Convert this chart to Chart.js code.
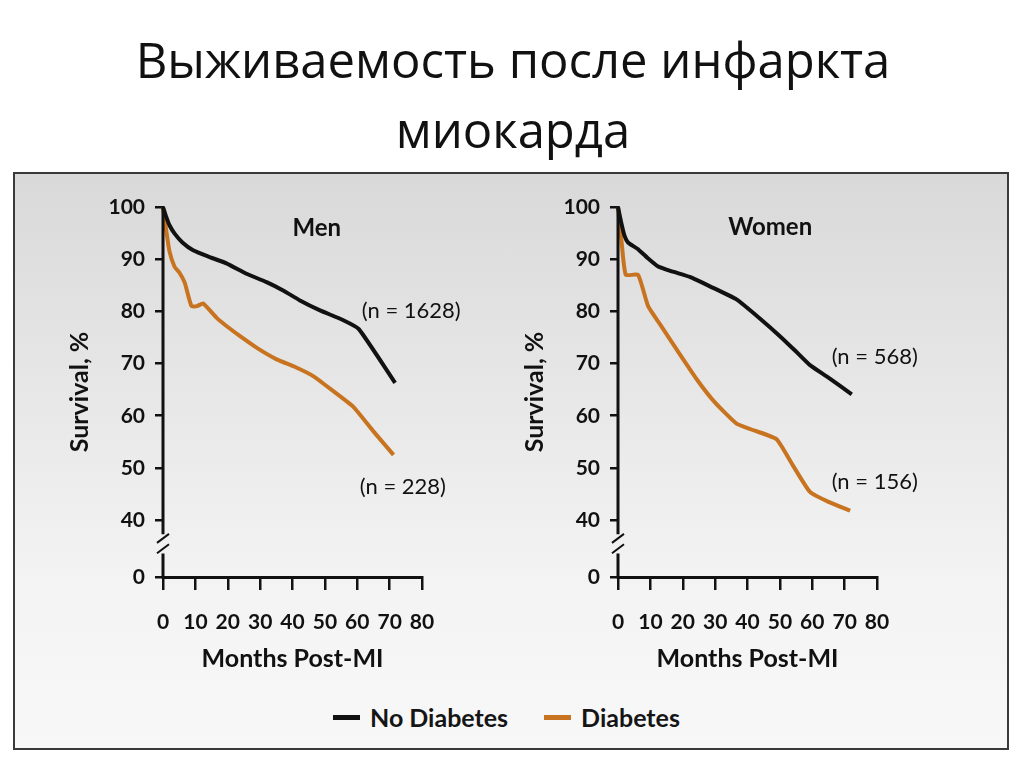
<!DOCTYPE html>
<html>
<head>
<meta charset="utf-8">
<script src="https://cdn.jsdelivr.net/npm/chart.js@4"></script>
<style>
  body { margin: 0; background: #fff; width: 1024px; height: 767px; overflow: hidden; position: relative; }
  #title { position: absolute; left: 0; top: 24px; width: 1026px; text-align: center;
           font-family: "Open Sans", sans-serif; font-size: 49px; line-height: 70px; color: #111; }
  #panel { position: absolute; left: 13px; top: 172px; width: 992px; height: 574px;
           border: 2px solid #3a3a3a; background: linear-gradient(#d9d9d9, #f3f3f3 70%, #f8f8f8); }
  .chartbox { position: absolute; top: 180px; width: 480px; height: 510px; }
  #legend { position: absolute; left: 333px; top: 702px; display: flex; align-items: center;
            font-family: Lato, sans-serif; font-weight: bold; font-size: 25px; color: #151515; }
  .item { display: flex; align-items: center; margin-right: 36px; }
  .swatch { width: 27px; height: 5px; margin-right: 10px; }
</style>
</head>
<body>
<div id="title">Выживаемость после инфаркта<br>миокарда</div>
<div id="panel"></div>
<div class="chartbox" style="left:20px"><canvas id="menChart"></canvas></div>
<div class="chartbox" style="left:475px"><canvas id="womenChart"></canvas></div>
<div id="legend"></div>
<script>
// series labels and colours
const seriesNames = ['No Diabetes', 'Diabetes'];
const seriesColors = ['#111111', '#c8731f'];

// Men, months post-MI and survival %
const menNoDiabMonths = [0, 1, 2, 3.6, 6, 9.3, 14, 19.6, 25.8, 32, 37.1, 42.3, 48.5, 55.7, 60.5, 71.7];
const menNoDiabValues = [100, 98.1, 96.5, 94.9, 93.2, 91.7, 90.5, 89.2, 87.2, 85.6, 84.0, 82.1, 80.2, 78.3, 76.6, 66.3];
const menDiabMonths = [0, 1, 2, 3.6, 5, 6.7, 8.8, 10.5, 12.4, 16.5, 20, 23.7, 29, 35.1, 41, 46.4, 52, 58.8, 65, 71.2];
const menDiabValues = [100, 95.5, 91.5, 88.5, 87.5, 85.5, 81, 81, 81.5, 78.8, 77, 75.3, 73, 70.8, 69.3, 67.6, 65, 61.7, 57, 52.5];

// Women
const womenNoDiabMonths = [0, 1, 2, 3.1, 6, 9, 12.4, 17, 22.2, 28.4, 36.6, 43.9, 50.1, 55, 59.3, 65, 72.2];
const womenNoDiabValues = [100, 97, 94.5, 93.2, 92, 90.3, 88.6, 87.6, 86.6, 84.8, 82.3, 78.6, 75.2, 72.3, 69.7, 67.3, 64.1];
const womenDiabMonths = [0, 1, 2.4, 6.2, 9.3, 13, 18.1, 24.3, 30, 36.6, 42, 49, 54, 59.3, 65, 71.7];
const womenDiabValues = [100, 94, 87, 87, 81, 77.5, 72.7, 67, 62.5, 58.5, 57.2, 55.5, 50.5, 45.4, 43.5, 41.8];

// axis ticks; the "0" sits just under the axis break
const xTicks = [0, 10, 20, 30, 40, 50, 60, 70, 80];
const yBreakZero = 29.1;
const yTicks = [yBreakZero, 40, 50, 60, 70, 80, 90, 100];

const ink = '#111';
const boldFont = size => ({ family: 'Lato', weight: 'bold', size: size });

function points(months, values) {
    return months.map((m, i) => ({ x: m, y: values[i] }));
}

// y axis with the // break, plus the panel captions
const breakAxis = {
    id: 'breakAxis',
    afterDatasetsDraw(chart, args, opts) {
        const ctx = chart.ctx;
        const y = chart.scales.y, x = chart.scales.x;
        const x0 = chart.chartArea.left;
        ctx.save();
        ctx.strokeStyle = ink;
        ctx.lineWidth = 3;
        ctx.beginPath();
        ctx.moveTo(x0, y.getPixelForValue(100) - 1);
        ctx.lineTo(x0, y.getPixelForValue(37.3));
        ctx.moveTo(x0, y.getPixelForValue(33.6));
        ctx.lineTo(x0, chart.chartArea.bottom + 1.5);
        ctx.stroke();
        ctx.lineWidth = 2;
        [36.6, 34.6].forEach(v => {
            const py = y.getPixelForValue(v);
            ctx.beginPath();
            ctx.moveTo(x0 - 6, py + 5);
            ctx.lineTo(x0 + 6, py - 4);
            ctx.stroke();
        });
        ctx.fillStyle = ink;
        ctx.textAlign = 'center';
        ctx.textBaseline = 'middle';
        ctx.font = 'bold 24px Lato';
        ctx.fillText(opts.caption, x.getPixelForValue(opts.captionAt[0]), y.getPixelForValue(opts.captionAt[1]));
        ctx.font = '22px Lato';
        ctx.textAlign = 'left';
        opts.notes.forEach(n => {
            ctx.fillText(n.text, x.getPixelForValue(n.at[0]), y.getPixelForValue(n.at[1]));
        });
        ctx.restore();
    }
};

function makeChart(id, noDiab, diab, caption, captionAt, notes) {
    const ctx = document.getElementById(id).getContext('2d');
    return new Chart(ctx, {
        type: 'line',
        data: {
            datasets: [
                { label: seriesNames[0], data: noDiab, borderColor: seriesColors[0], borderWidth: 4,
                  pointRadius: 0, tension: 0.15, clip: false },
                { label: seriesNames[1], data: diab, borderColor: seriesColors[1], borderWidth: 4,
                  pointRadius: 0, tension: 0.15, clip: false }
            ]
        },
        options: {
            responsive: true,
            maintainAspectRatio: false,
            animation: false,
            events: [],
            layout: { padding: { top: 27, right: 78, bottom: 0, left: 0 } },
            plugins: {
                legend: { display: false },
                tooltip: { enabled: false },
                breakAxis: { caption: caption, captionAt: captionAt, notes: notes }
            },
            scales: {
                x: {
                    type: 'linear', min: 0, max: 80,
                    afterBuildTicks: s => { s.ticks = xTicks.map(v => ({ value: v })); },
                    afterFit: s => { s.height = 113; },
                    ticks: { color: ink, font: boldFont(21), padding: 20, maxRotation: 0, autoSkip: false },
                    grid: { drawOnChartArea: false, tickLength: 13, color: ink, lineWidth: 2.5 },
                    border: { display: true, color: ink, width: 3 },
                    title: { display: true, text: 'Months Post-MI', color: ink, font: boldFont(25),
                             padding: { top: 0, bottom: 16 } }
                },
                y: {
                    type: 'linear', min: yBreakZero, max: 100,
                    afterBuildTicks: s => { s.ticks = yTicks.map(v => ({ value: v })); },
                    afterFit: s => { s.width = 143; },
                    ticks: { color: ink, font: boldFont(21), padding: 10,
                             callback: v => (v === yBreakZero ? '0' : v) },
                    grid: { drawOnChartArea: false, tickLength: 8, color: ink, lineWidth: 2.5 },
                    border: { display: false },
                    title: { display: true, text: 'Survival, %', color: ink, font: boldFont(25),
                             padding: { top: 45, bottom: 0 } }
                }
            }
        },
        plugins: [breakAxis]
    });
}

makeChart('menChart',
    points(menNoDiabMonths, menNoDiabValues), points(menDiabMonths, menDiabValues),
    'Men', [47.5, 96],
    [{ text: '(n = 1628)', at: [61.4, 80] }, { text: '(n = 228)', at: [60.8, 46.3] }]);

makeChart('womenChart',
    points(womenNoDiabMonths, womenNoDiabValues), points(womenDiabMonths, womenDiabValues),
    'Women', [47, 96.2],
    [{ text: '(n = 568)', at: [66, 71.3] }, { text: '(n = 156)', at: [66, 47.3] }]);

// legend
const legend = document.getElementById('legend');
seriesNames.forEach((name, i) => {
    const item = document.createElement('div');
    item.className = 'item';
    item.innerHTML = '<span class="swatch" style="background:' + seriesColors[i] + '"></span>' + name;
    legend.appendChild(item);
});
</script>
</body>
</html>
